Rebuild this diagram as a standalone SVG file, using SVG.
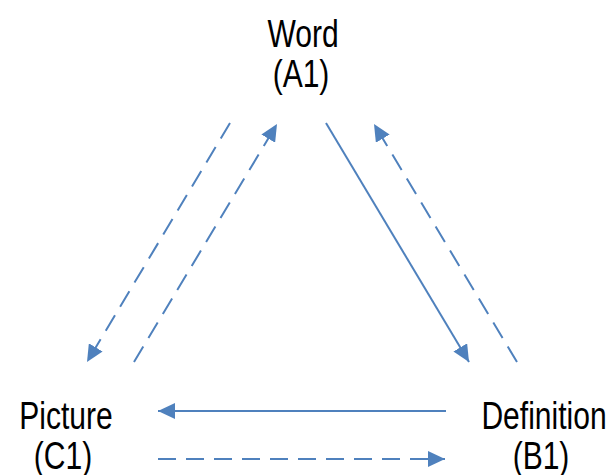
<svg xmlns="http://www.w3.org/2000/svg" width="610" height="475" viewBox="0 0 610 475">
<style>
.lbl{font-family:"Liberation Sans",Arial,sans-serif;font-size:39px;fill:#000;text-anchor:middle}
.c{stroke:#4F81BD;stroke-width:2;fill:none}
.d{stroke-dasharray:18,10}
</style>
<defs>
<marker id="ah" markerUnits="userSpaceOnUse" markerWidth="18" markerHeight="16" refX="17" refY="8" orient="auto">
<path d="M0,0 L17,8 L0,16 z" fill="#4F81BD"/>
</marker>
</defs>
<rect width="610" height="475" fill="#fff"/>
<g id="word">
<text class="lbl" transform="translate(303,47) scale(0.77,1)">Word</text>
<text class="lbl" transform="translate(301,87) scale(0.77,1)">(A1)</text>
</g>
<g id="picture">
<text class="lbl" transform="translate(66,429) scale(0.77,1)">Picture</text>
<text class="lbl" transform="translate(63,469) scale(0.77,1)">(C1)</text>
</g>
<g id="definition">
<text class="lbl" transform="translate(544,429) scale(0.77,1)">Definition</text>
<text class="lbl" transform="translate(541,469) scale(0.77,1)">(B1)</text>
</g>
<g id="connectors">
<line class="c d" x1="230" y1="123" x2="87" y2="362" marker-end="url(#ah)"/>
<line class="c d" x1="134" y1="362" x2="277" y2="124" marker-end="url(#ah)"/>
<line class="c" x1="326" y1="123" x2="469" y2="362" marker-end="url(#ah)"/>
<line class="c d" x1="517" y1="362" x2="374" y2="124" marker-end="url(#ah)"/>
<line class="c" x1="446" y1="411" x2="158" y2="411" marker-end="url(#ah)"/>
<line class="c d" x1="158" y1="459" x2="445" y2="459" marker-end="url(#ah)"/>
</g>
</svg>
